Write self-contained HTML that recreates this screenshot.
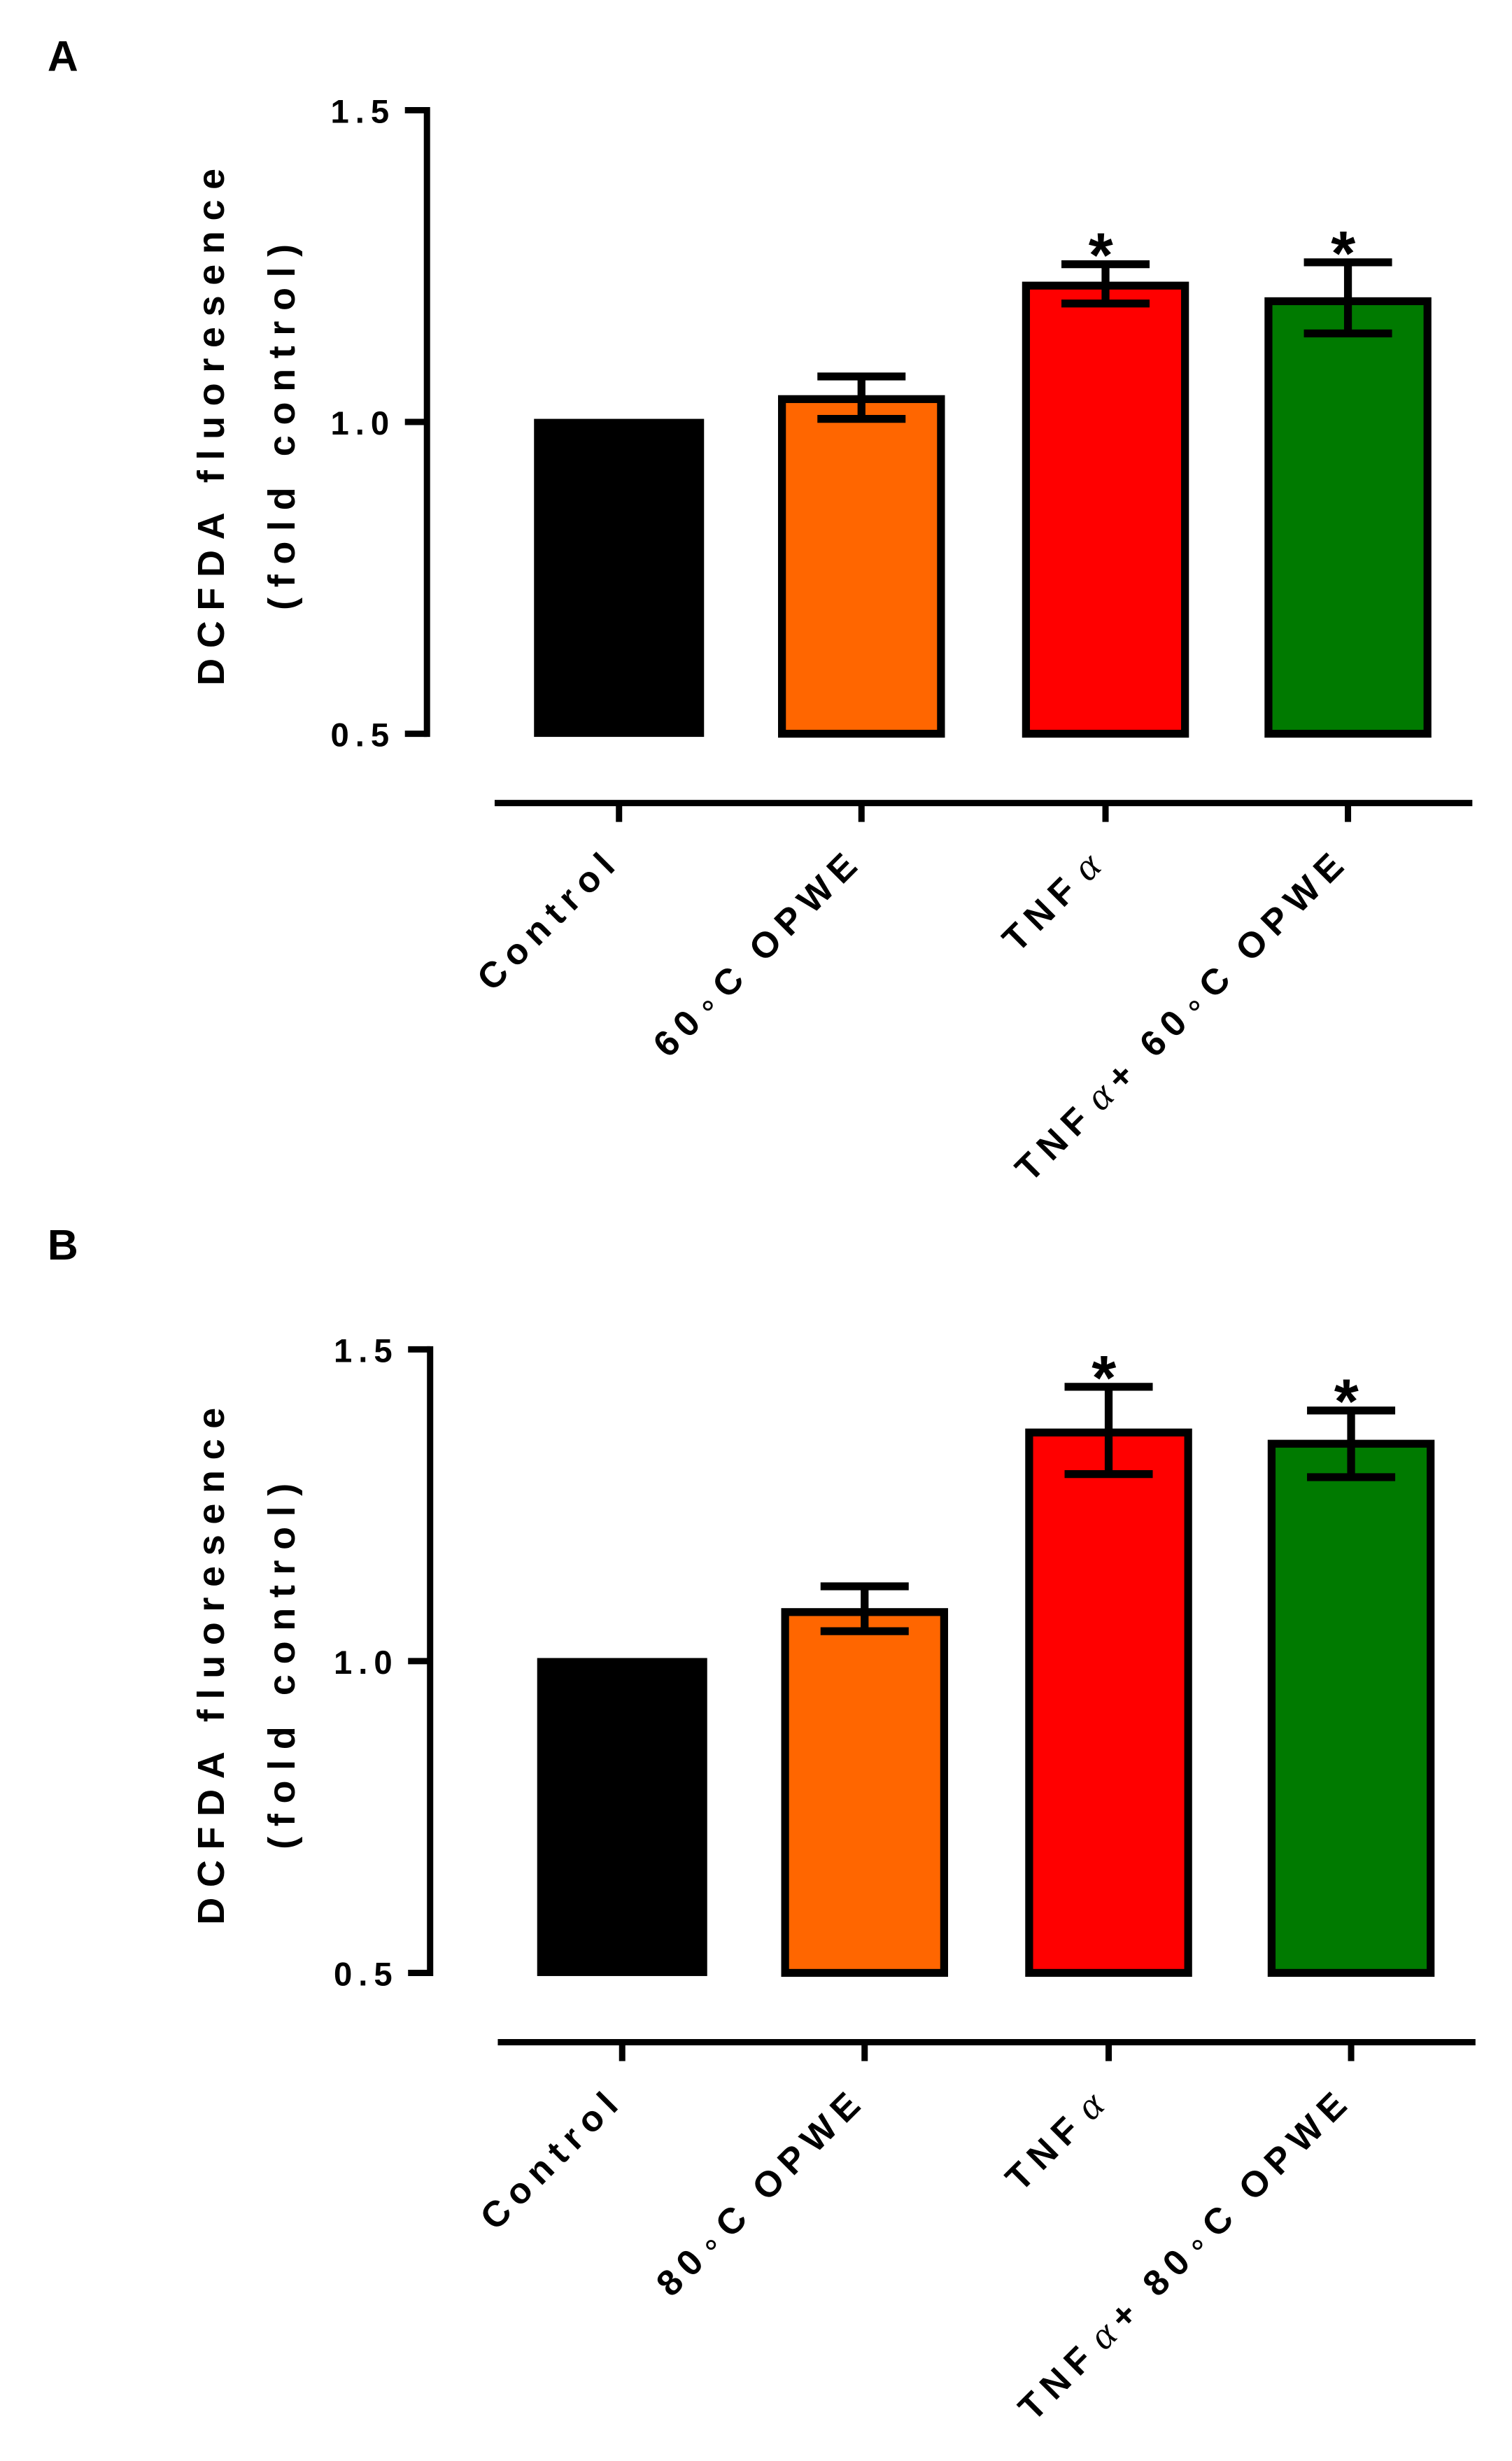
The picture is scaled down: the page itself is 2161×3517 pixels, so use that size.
<!DOCTYPE html>
<html><head><meta charset="utf-8"><style>
html,body{margin:0;padding:0;background:#fff;}
svg{display:block;}
text{font-family:"Liberation Sans",Arial,sans-serif;font-weight:bold;fill:#000;}
</style></head><body>
<svg id="fig" xmlns="http://www.w3.org/2000/svg" width="2161" height="3517" viewBox="0 0 960 1563"></svg>
<script>
const categoriesA = ["Control", "60°C OPWE", "TNFα", "TNFα+ 60°C OPWE"];
const valuesA = [1.005, 1.043, 1.225, 1.200];
const errHiA = [null, 1.073, 1.253, 1.256];
const errLoA = [null, 1.005, 1.190, 1.142];
const sigA = [false, false, true, true];

const categoriesB = ["Control", "80°C OPWE", "TNFα", "TNFα+ 80°C OPWE"];
const valuesB = [1.005, 1.085, 1.373, 1.355];
const errHiB = [null, 1.120, 1.440, 1.402];
const errLoB = [null, 1.048, 1.300, 1.295];
const sigB = [false, false, true, true];

const yTicks = [0.5, 1.0, 1.5];
const yTickLabels = ["0.5", "1.0", "1.5"];
const colors = ["#000000", "#ff6600", "#ff0000", "#007a00"];

const NS = "http://www.w3.org/2000/svg";
const svg = document.getElementById("fig");
function mk(tag, attrs, parent, txt) {
  const e = document.createElementNS(NS, tag);
  for (const k in attrs) e.setAttribute(k, attrs[k]);
  if (txt !== undefined) e.textContent = txt;
  (parent || svg).appendChild(e);
  return e;
}

function labelText(parent, s) {
  const t = parent;
  let buf = "";
  const flush = () => { if (buf) { mk("tspan", {}, t, buf); buf = ""; } };
  for (const ch of s) {
    if (ch === "α") { flush(); mk("tspan", {"font-family": "Liberation Serif, serif", "font-style": "italic", "font-weight": "normal", "font-size": "25", "dx": "4"}, t, "α"); }
    else if (ch === "°") { flush(); mk("tspan", {"font-weight": "normal", "font-size": "20"}, t, "∘"); }
    else buf += ch;
  }
  flush();
}

function panel(letter, offY, labelY, axisX, cats, vals, hi, lo, sig, barXs) {
  const g = mk("g", {});
  
  
  const yTop = 70 + offY, yBot = 466 + offY;
  const y = v => yBot - (v - 0.5) / 1.0 * (yBot - yTop);

  const pl = mk("text", {x: 30, y: labelY, "font-size": 27}, g, letter);
  
  

  const ya = mk("line", {x1: axisX, y1: yTop - 2, x2: axisX, y2: yBot + 2, stroke: "#000", "stroke-width": 4}, g);
  
  
  yTicks.forEach((v, i) => {
    const tk = mk("line", {x1: axisX - 14, y1: y(v), x2: axisX, y2: y(v), stroke: "#000", "stroke-width": 4}, g);
    
    
    const tl = mk("text", {x: axisX - 20, y: y(v) + 8, "font-size": 21, "text-anchor": "end", "letter-spacing": "4"}, g, yTickLabels[i]);
    
    
  });
  const midY = (yTop + yBot) / 2;
  const t1 = mk("text", {x: 0, y: 0, "font-size": 24, "text-anchor": "middle", "letter-spacing": "6.5", transform: `translate(142,${midY}) rotate(-90)`}, g, "DCFDA fluoresence");
  
  
  const t2 = mk("text", {x: 0, y: 0, "font-size": 24, "text-anchor": "middle", "letter-spacing": "6.5", transform: `translate(187,${midY}) rotate(-90)`}, g, "(fold control)");
  
  

  const xAxY = 510 + offY;
  const xa = mk("line", {x1: axisX + 43, y1: xAxY, x2: axisX + 664, y2: xAxY, stroke: "#000", "stroke-width": 4}, g);
  
  

  const bw = 106;
  cats.forEach((c, i) => {
    const cx = barXs[i];
    const top = y(vals[i]);
    let r;
    if (i === 0) {
      r = mk("rect", {x: cx - bw / 2 - 1, y: top, width: bw + 2, height: yBot + 2 - top, fill: colors[i]}, g);
    } else {
      r = mk("rect", {x: cx - bw / 2 + 2.5, y: top + 2.5, width: bw - 5, height: yBot - top - 2.5, fill: colors[i], stroke: "#000", "stroke-width": 5}, g);
    }
    
    
    if (hi[i] !== null) {
      const eg = mk("g", {stroke: "#000", "stroke-width": 5}, g);
      
      
      mk("line", {x1: cx, y1: y(hi[i]), x2: cx, y2: y(lo[i])}, eg);
      mk("line", {x1: cx - 28, y1: y(hi[i]), x2: cx + 28, y2: y(hi[i])}, eg);
      mk("line", {x1: cx - 28, y1: y(lo[i]), x2: cx + 28, y2: y(lo[i])}, eg);
    }
    if (sig[i]) {
      const s = mk("text", {x: cx - 3, y: y(hi[i]) + 8, "font-size": 40, "text-anchor": "middle"}, g, "*");
      
      
    }
    const tk = mk("line", {x1: cx, y1: xAxY, x2: cx, y2: xAxY + 12, stroke: "#000", "stroke-width": 4}, g);
    
    
    const lt = mk("text", {x: 0, y: 0, "font-size": 23, "text-anchor": "end", "letter-spacing": "5", transform: `translate(${cx + 2},${xAxY + 38}) rotate(-45)`}, g);
    labelText(lt, c);
    
    
  });
}

panel("A", 0, 45, 271, categoriesA, valuesA, errHiA, errLoA, sigA, [393, 547, 702, 856]);
panel("B", 787, 800, 273, categoriesB, valuesB, errHiB, errLoB, sigB, [395, 549, 704, 858]);
</script>
</body></html>
